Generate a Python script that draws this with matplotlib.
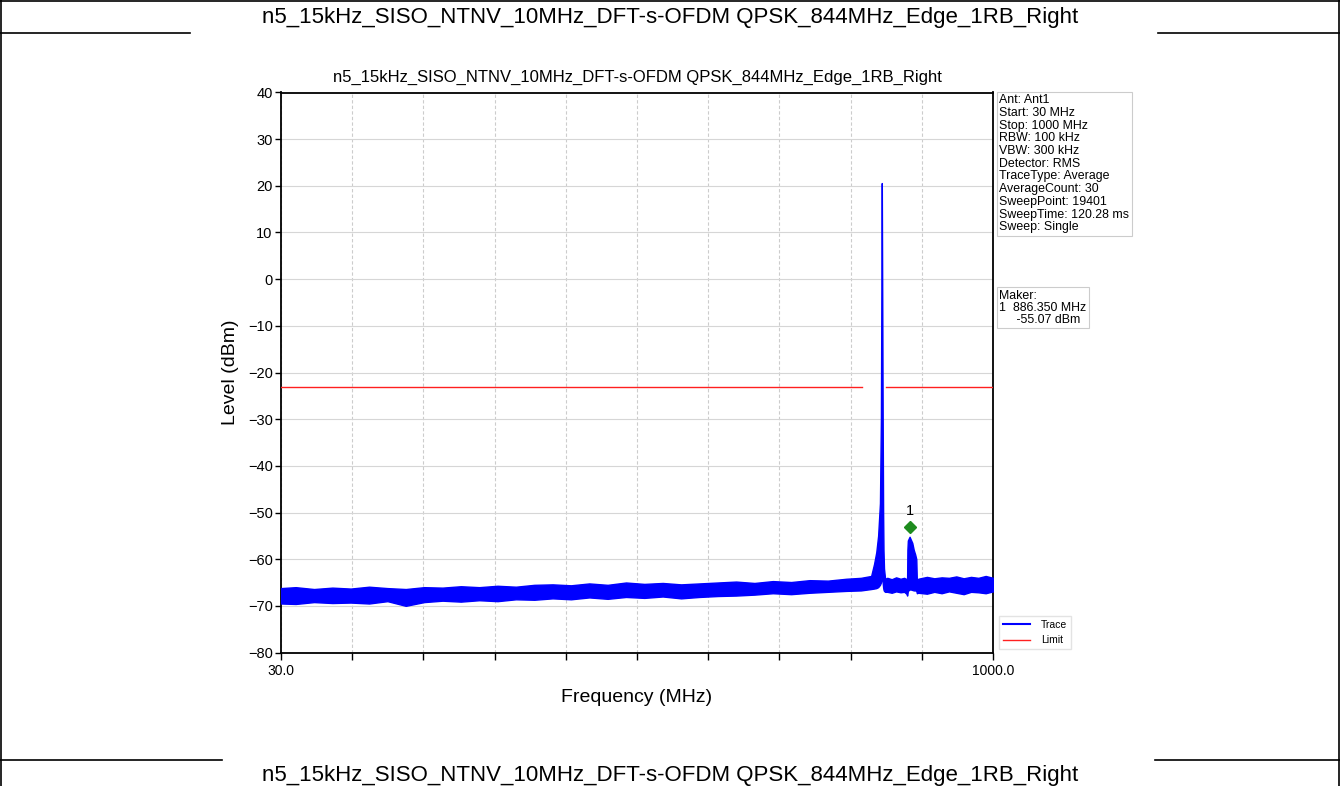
import matplotlib
matplotlib.use('Agg')
import matplotlib.pyplot as plt
from matplotlib.lines import Line2D

plt.rcParams['font.family'] = ['Liberation Sans', 'DejaVu Sans']

title = "n5_15kHz_SISO_NTNV_10MHz_DFT-s-OFDM QPSK_844MHz_Edge_1RB_Right"

# ---- trace envelope (noise band + carrier + marker bump) ----
noise_left_freq = [30, 50, 75, 100, 125, 150, 175, 200, 225, 250, 275, 300, 325, 350,
                   375, 400, 425, 450, 475, 500, 525, 550, 575, 600, 625, 650, 675,
                   700, 725, 750, 775, 800, 820, 834]
noise_left_upper = [-66.2, -66.0, -66.4, -66.1, -66.3, -65.9, -66.2, -66.4, -66.0, -66.1,
                    -65.8, -66.0, -65.7, -65.9, -65.5, -65.4, -65.6, -65.2, -65.5, -65.0,
                    -65.3, -65.1, -65.4, -65.2, -65.0, -64.8, -65.1, -64.7, -64.9, -64.5,
                    -64.6, -64.2, -64.0, -63.6]
noise_left_lower = [-69.5, -69.6, -69.2, -69.4, -69.3, -69.5, -69.0, -70.0, -69.2, -68.9,
                    -69.1, -68.8, -69.0, -68.6, -68.7, -68.4, -68.6, -68.2, -68.5, -68.1,
                    -68.3, -68.0, -68.4, -68.1, -67.9, -67.8, -67.6, -67.3, -67.5, -67.2,
                    -67.0, -66.8, -66.7, -66.4]

carrier_freq = [838, 841, 843.5, 846, 847.3, 848.0, 848.5, 849.0, 849.7, 850.3, 850.8, 851.5, 853]
carrier_upper = [-61.0, -58.5, -55.0, -48.0, -30.0, 0.0, 20.6, 0.0, -30.0, -50.0, -58.0, -62.0, -64.2]
carrier_lower = [-66.3, -66.2, -66.0, -65.5, -65.0, -64.0, -64.0, -64.0, -65.0, -66.0, -66.5, -66.8, -67.0]

noise_mid_freq = [856, 862, 868, 874, 879, 882]
noise_mid_upper = [-64.0, -64.3, -63.9, -64.2, -64.0, -64.3]
noise_mid_lower = [-67.0, -67.2, -66.9, -67.1, -67.0, -67.4]

bump_freq = [883.0, 883.4, 884.0, 886.35, 888, 890, 892, 894, 895.5, 896.3]
bump_upper = [-64.0, -58.0, -56.0, -55.2, -55.8, -56.5, -58.0, -59.0, -60.0, -65.0]
bump_lower = [-67.8, -67.5, -66.8, -66.5, -66.5, -66.6, -66.7, -66.7, -66.8, -67.3]

noise_right_freq = [898, 910, 920, 930, 940, 950, 960, 970, 980, 990, 1000]
noise_right_upper = [-64.2, -63.8, -64.1, -63.9, -64.0, -63.7, -64.1, -63.8, -64.0, -63.6, -64.0]
noise_right_lower = [-67.2, -67.4, -67.0, -67.3, -66.9, -67.2, -67.5, -67.0, -67.1, -67.3, -66.9]

limit_level = -23.0
limit_start = [30.0, 854.0]
limit_stop = [821.0, 1000.0]

marker_freq = 886.35
marker_level = -55.07

x_ticks = [30, 127, 224, 321, 418, 515, 612, 709, 806, 903, 1000]
x_tick_labels = ['30.0', '', '', '', '', '', '', '', '', '', '1000.0']
y_ticks = [-80, -70, -60, -50, -40, -30, -20, -10, 0, 10, 20, 30, 40]

info_lines = ["Ant: Ant1", "Start: 30 MHz", "Stop: 1000 MHz", "RBW: 100 kHz", "VBW: 300 kHz",
              "Detector: RMS", "TraceType: Average", "AverageCount: 30", "SweepPoint: 19401",
              "SweepTime: 120.28 ms", "Sweep: Single"]

trace_freq = noise_left_freq + carrier_freq + noise_mid_freq + bump_freq + noise_right_freq
trace_upper = noise_left_upper + carrier_upper + noise_mid_upper + bump_upper + noise_right_upper
trace_lower = noise_left_lower + carrier_lower + noise_mid_lower + bump_lower + noise_right_lower

W, H = 1340, 786
fig = plt.figure(figsize=(W / 100, H / 100), dpi=100)

# document frame
def hline(y, x0, x1):
    fig.add_artist(Line2D([x0 / W, x1 / W], [1 - y / H, 1 - y / H], color='black', lw=1.2))

def vline(x, y0, y1):
    fig.add_artist(Line2D([x / W, x / W], [1 - y0 / H, 1 - y1 / H], color='black', lw=1.2))

hline(0.5, 0, W)
hline(33, 0, 190)
hline(33, 1158, W)
hline(760, 0, 222)
hline(760, 1155, W)
vline(0.8, 0, H)
vline(1338.5, 0, H)

fig.text(0.5, 1 - 17 / H, title, ha='center', va='center', fontsize=16)
fig.text(0.5, 1 - 775 / H, title, ha='center', va='center', fontsize=16)

ax = fig.add_axes([281 / W, 1 - 652.5 / H, 712 / W, 560 / H])

ax.fill_between(trace_freq, trace_lower, trace_upper, color='#0000ff', lw=1.0, zorder=3)
for x0, x1 in zip(limit_start, limit_stop):
    ax.plot([x0, x1], [limit_level, limit_level], color='#ff2020', lw=1.0, zorder=3)

ax.plot([marker_freq], [marker_level + 2.0], marker='D', ms=6.5, color='#1e8c1e', zorder=5)
ax.text(marker_freq, marker_level + 5.3, '1', ha='center', va='center', fontsize=10.5, zorder=5)

ax.set_xlim(30, 1000)
ax.set_ylim(-80, 40)
ax.set_xticks(x_ticks)
ax.set_xticklabels(x_tick_labels)
ax.set_yticks(y_ticks)
ax.tick_params(axis='x', direction='out', length=5, width=1, labelsize=10, pad=3)
ax.tick_params(axis='y', direction='out', length=4, width=1, labelsize=10.5, pad=2)
for s in ax.spines.values():
    s.set_linewidth(1.3)

ax.grid(axis='x', color='#cccccc', linestyle=(0, (3, 2)), lw=0.8)
ax.grid(axis='y', color='#d6d6d6', linestyle='-', lw=0.8)
ax.set_axisbelow(True)

ax.set_xlabel('Frequency (MHz)', fontsize=14, labelpad=8)
ax.set_ylabel('Level (dBm)', fontsize=14, labelpad=6)
ax.set_title(title, fontsize=12, pad=8)

ax.text(1.009, 0.997, "\n".join(info_lines), transform=ax.transAxes, va='top', ha='left',
        fontsize=8.9, linespacing=1.08,
        bbox=dict(boxstyle='square,pad=0.2', fc='white', ec='#cccccc', lw=0.8))
ax.text(1.009, 0.648, "Maker:\n1  886.350 MHz\n     -55.07 dBm", transform=ax.transAxes,
        va='top', ha='left', fontsize=8.9, linespacing=1.0,
        bbox=dict(boxstyle='square,pad=0.2', fc='white', ec='#cccccc', lw=0.8))

handles = [Line2D([], [], color='#0000ff', lw=1.5, label='Trace'),
           Line2D([], [], color='#ff2020', lw=1.0, label='Limit')]
ax.legend(handles=handles, loc='lower left', bbox_to_anchor=(1.004, 0.0), fontsize=7.5,
          frameon=True, edgecolor='#dddddd', fancybox=False, borderaxespad=0.3,
          handlelength=2.6, handletextpad=1.0)

fig.savefig('out.png', dpi=100)
